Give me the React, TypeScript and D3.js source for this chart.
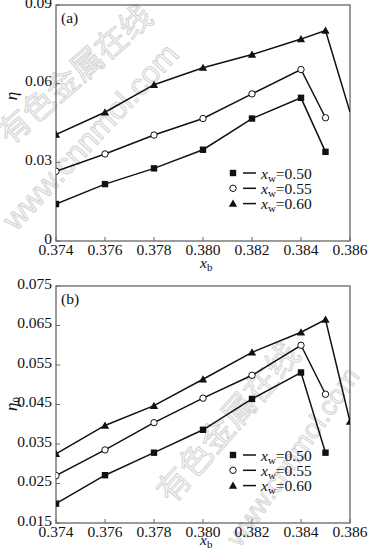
import React from "react";
import * as d3 from "d3";

// x values (x_b)
const xsA = [0.374, 0.376, 0.378, 0.38, 0.382, 0.384, 0.385, 0.386];
const xsB = [0.374, 0.376, 0.378, 0.38, 0.382, 0.384, 0.385, 0.386];

// panel (a): eta
const etaW050 = [0.0141, 0.0217, 0.0277, 0.0348, 0.0467, 0.0546, 0.034];
const etaW055 = [0.0266, 0.0332, 0.0404, 0.0467, 0.0561, 0.0654, 0.047];
const etaW060 = [0.0406, 0.0491, 0.0596, 0.0661, 0.0711, 0.077, 0.0803, 0.0492];

// panel (b): eta0
const eta0W050 = [0.0199, 0.0271, 0.0328, 0.0386, 0.0464, 0.0531, 0.0328];
const eta0W055 = [0.027, 0.0335, 0.0404, 0.0466, 0.0524, 0.06, 0.0476];
const eta0W060 = [0.0325, 0.0397, 0.0447, 0.0514, 0.0582, 0.0633, 0.0665, 0.0407];

const xTicks = [0.374, 0.376, 0.378, 0.38, 0.382, 0.384, 0.386];
const yTicksA = [0, 0.03, 0.06, 0.09];
const yTicksB = [0.015, 0.025, 0.035, 0.045, 0.055, 0.065, 0.075];
const legendLabels = ["0.50", "0.55", "0.60"];
const markerTypes = ["square", "circle", "triangle"];

const FONT = "'Liberation Serif', 'Times New Roman', serif";
const INK = "#111";
const FRAME = "#666";

function Marker({ type, x, y }: { type: string; x: number; y: number }) {
  if (type === "square") return <rect x={x - 3.2} y={y - 3.2} width={6.4} height={6.4} fill={INK} />;
  if (type === "circle") return <circle cx={x} cy={y} r={3.2} fill="#fff" stroke={INK} strokeWidth={1} />;
  const s = d3.symbol(d3.symbolTriangle, 30)() as string;
  return <path d={s} transform={`translate(${x},${y + 0.8})`} fill={INK} />;
}

function Panel({
  top, bottom, yDomain, yTicks, yFmt, series, label, yLabel, yLabelY, legendY, xLabelY, hideOuter,
}: any) {
  const left = 56, right = 350;
  const x = d3.scaleLinear().domain([0.374, 0.386]).range([left, right]);
  const y = d3.scaleLinear().domain(yDomain).range([bottom, top]);
  const line = d3.line<[number, number]>().x((d) => x(d[0])).y((d) => y(d[1]));
  const clipId = `clip-${label.replace(/[()]/g, "")}`;
  return (
    <g>
      <defs>
        <clipPath id={clipId}>
          <rect x={left} y={top} width={right - left} height={bottom - top} />
        </clipPath>
      </defs>
      <rect x={left} y={top} width={right - left} height={bottom - top} fill="none" stroke={FRAME} strokeWidth={1.3} />
      {xTicks.map((t) => (
        <g key={t}>
          <line x1={x(t)} x2={x(t)} y1={bottom} y2={bottom - 4} stroke={FRAME} strokeWidth={1} />
          <text x={x(t)} y={bottom + 14} textAnchor="middle" fontSize={15.5} fontFamily={FONT} fill={INK}>
            {d3.format(".3f")(t)}
          </text>
        </g>
      ))}
      {yTicks.map((t: number) => (
        <g key={t}>
          <line x1={left} x2={left + 4} y1={y(t)} y2={y(t)} stroke={FRAME} strokeWidth={1} />
          <text x={52} y={y(t) + 2.5} textAnchor="end" fontSize={15.5} fontFamily={FONT} fill={INK}>
            {yFmt(t)}
          </text>
        </g>
      ))}
      <text x={200} y={xLabelY} fontSize={15.5} fontFamily={FONT} fontStyle="italic" fill={INK}>
        x<tspan fontSize={11} fontStyle="normal" dy={3}>b</tspan>
      </text>
      <text transform={`translate(17,${yLabelY}) rotate(-90)`} textAnchor="middle" fontSize={17} fontFamily={FONT} fontStyle="italic" fill={INK}>
        η{yLabel ? <tspan fontSize={11} fontStyle="normal" dy={3}>{yLabel}</tspan> : null}
      </text>
      <text x={61} y={top + 18} fontSize={15.5} fontFamily={FONT} fill={INK}>{label}</text>
      <g clipPath={`url(#${clipId})`}>
        {series.map((s: any, i: number) => {
          const pts: [number, number][] = s.values.map((v: number, j: number) => [s.xs[j], v]);
          return (
            <g key={i}>
              <path d={line(pts) as string} fill="none" stroke={INK} strokeWidth={1.5} />
              {pts.map((p, j) =>
                hideOuter && x(p[0]) >= right ? null : (
                  <Marker key={j} type={markerTypes[i]} x={x(p[0])} y={y(p[1])} />
                )
              )}
            </g>
          );
        })}
      </g>
      {legendLabels.map((l, i) => (
        <g key={l} transform={`translate(0,${legendY + i * 15.3})`}>
          <Marker type={markerTypes[i]} x={233} y={0} />
          <line x1={243} x2={256} y1={0} y2={0} stroke={INK} strokeWidth={1.5} />
          <text x={261} y={5.5} fontSize={15.5} fontFamily={FONT} fill={INK}>
            <tspan fontStyle="italic">x</tspan>
            <tspan fontSize={11} dy={3}>w</tspan>
            <tspan dy={-3}>={l}</tspan>
          </text>
        </g>
      ))}
    </g>
  );
}

export default function App() {
  const mk = (xs: number[], a: number[], b: number[], c: number[]) => [
    { xs, values: a },
    { xs, values: b },
    { xs, values: c },
  ];
  return (
    <svg width={368} height={554} style={{ position: "absolute", left: 0, top: 0, background: "#fff" }}>
      <rect width={368} height={554} fill="#fff" />
      <g fill="#f4f4f4" stroke="#cfcfcf" strokeWidth={0.8}>
        <text transform="translate(10,146) rotate(-41)" fontSize={32} fontFamily="'Noto Sans CJK SC', sans-serif">有色金属在线</text>
        <text transform="translate(16,232) rotate(-47)" fontSize={31} fontFamily="'Liberation Sans', sans-serif">www.cnnmol.com</text>
        <text transform="translate(172,505) rotate(-49)" fontSize={33} fontFamily="'Noto Sans CJK SC', sans-serif">有色金属在线</text>
        <text transform="translate(240,548) rotate(-55)" fontSize={27} fontFamily="'Liberation Sans', sans-serif">www.cnnmol.com</text>
      </g>
      <Panel
        top={5}
        bottom={241}
        yDomain={[0, 0.09]}
        yTicks={yTicksA}
        yFmt={(t: number) => (t === 0 ? "0" : d3.format(".2f")(t))}
        series={mk(xsA, etaW050, etaW055, etaW060)}
        label="(a)"
        yLabel=""
        yLabelY={96}
        legendY={173}
        xLabelY={268}
        hideOuter={true}
      />
      <Panel
        top={286}
        bottom={523}
        yDomain={[0.015, 0.075]}
        yTicks={yTicksB}
        yFmt={d3.format(".3f")}
        series={mk(xsB, eta0W050, eta0W055, eta0W060)}
        label="(b)"
        yLabel="0"
        yLabelY={404}
        legendY={455}
        xLabelY={545}
        hideOuter={false}
      />
    </svg>
  );
}
